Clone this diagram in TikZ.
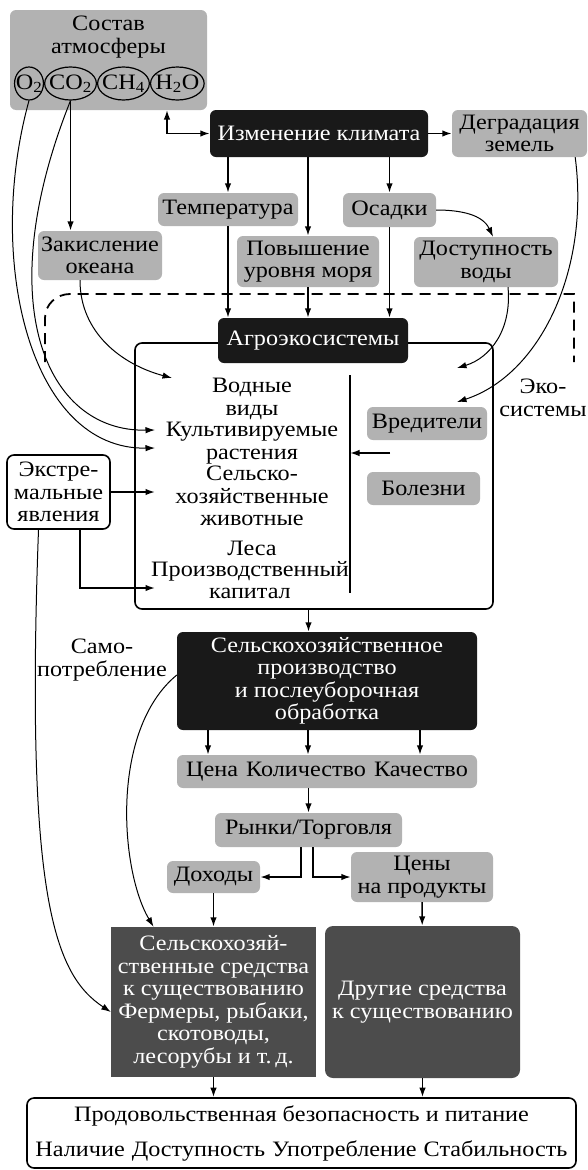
\documentclass[tikz,border=0pt]{standalone}
\usepackage{fontspec}
\setmainfont{Liberation Serif}[FakeStretch=1.1]
\usetikzlibrary{arrows.meta,positioning,shapes.geometric}

\begin{document}
\begin{tikzpicture}[
  x=1pt, y=1pt,
  font=\fontsize{22}{22.5}\selectfont,
  >={Latex[length=9.5pt,width=6.5pt]},
  every node/.style={align=center, inner sep=1pt},
  graybox/.style={fill=black!30, rounded corners=6pt},
  darkbox/.style={fill=black!90, text=white, rounded corners=6pt},
  livbox/.style={fill=black!70, text=white},
  framebox/.style={draw, line width=1.6pt, rounded corners=7pt},
  gas/.style={draw, ellipse, line width=1.2pt, inner xsep=-3pt, inner ysep=0pt, minimum height=33pt},
  arrow/.style={->, line width=1.6pt},
  thinarrow/.style={->, line width=1pt},
  dashline/.style={line width=1.8pt, dash pattern=on 11pt off 7pt}
]
\useasboundingbox (0,0) rectangle (588,-1170);

% atmosphere
\node[graybox, minimum width=197pt, minimum height=100pt] (atm) at (108.5,-60) {};
\node (atmname) at (108.5,-37) {Состав\\атмосферы};
\node[gas] (o2) at (29,-83.5) {O\textsubscript{2}};
\node[gas, right=0pt of o2] (co2) {CO\textsubscript{2}};
\node[gas, right=0pt of co2] (ch4) {CH\textsubscript{4}};
\node[gas, right=0pt of ch4] (h2o) {H\textsubscript{2}O};

% climate drivers
\node[darkbox, minimum width=218pt, minimum height=47pt] (clim) at (319,-133.5) {Изменение климата};
\node[graybox, minimum width=135pt, minimum height=47pt] (degr) at (519.5,-133.5) {Деградация\\земель};
\node[graybox, minimum width=140pt, minimum height=33pt] (temp) at (228,-209.5) {Температура};
\node[graybox, minimum width=142pt, minimum height=51pt] (sea) at (308,-261.5) {Повышение\\уровня моря};
\node[graybox, minimum width=93pt, minimum height=34pt] (prec) at (389.5,-210) {Осадки};
\node[graybox, minimum width=144pt, minimum height=50pt] (water) at (486,-262) {Доступность\\воды};
\node[graybox, minimum width=124pt, minimum height=49pt] (acid) at (100,-255.5) {Закисление\\океана};

% agroecosystems
\node[framebox, minimum width=358pt, minimum height=266pt] (eco) at (314,-476) {};
\node[darkbox, minimum width=190pt, minimum height=45pt] (agro) at (313,-340.5) {Агроэкосистемы};
\node (aqua) at (252,-399) {Водные\\виды};
\node (crops) at (252,-443) {Культивируемые\\растения};
\node (stock) at (252,-496) {Сельско-\\хозяйственные\\животные};
\node (forest) at (252,-548) {Леса};
\node (capital) at (250,-580) {Производственный\\капитал};
\coordinate (divtop) at (350,-375);
\coordinate (divbot) at (350,-593);
\draw[line width=1.6pt] (divtop) -- (divbot);
\node[graybox, minimum width=120pt, minimum height=33pt] (pests) at (427,-423.5) {Вредители};
\node[graybox, minimum width=113pt, minimum height=33pt] (dis) at (423.5,-488.5) {Болезни};
\node (ecolbl) at (543,-398) {Эко-\\системы};
\node[framebox, minimum width=103pt, minimum height=74pt, inner sep=0pt] (ext) at (58.5,-492) {Экстре-\\мальные\\явления};

% production and livelihoods
\node (selfc) at (102,-660) {Само-\\потребление};
\node[darkbox, minimum width=300pt, minimum height=98pt] (prod) at (327,-681) {Сельскохозяйственное\\производство\\и послеуборочная\\обработка};
\node[graybox, minimum width=300pt, minimum height=33pt] (pqq) at (327,-771.5) {Цена\hspace{8pt}Количество\hspace{8pt}Качество};
\node[graybox, minimum width=187pt, minimum height=34pt] (market) at (308.5,-830) {Рынки/Торговля};
\node[graybox, minimum width=93pt, minimum height=32pt] (income) at (213.5,-877) {Доходы};
\node[graybox, minimum width=142pt, minimum height=50pt] (fprice) at (422,-877) {Цены\\на продукты};
\node[livbox, minimum width=205pt, minimum height=150pt] (farmliv) at (213.5,-1002) {Сельскохозяй-\\ственные средства\\к существованию\\Фермеры, рыбаки,\\скотоводы,\\лесорубы и т.\,д.};
\node[livbox, rounded corners=8pt, minimum width=195pt, minimum height=152pt] (otherliv) at (422.5,-1002) {Другие средства\\к существованию};
\node[framebox, minimum width=549pt, minimum height=70pt] (food) at (301.5,-1133) {Продовольственная безопасность и питание\\[12.5pt]Наличие\hspace{7pt}Доступность\hspace{7pt}Употребление\hspace{7pt}Стабильность};

% free ends inside the frame
\coordinate (inAqua) at (172,-378);
\coordinate (inCropsA) at (155,-430);
\coordinate (inCropsB) at (155,-448);
\coordinate (inStock) at (155,-495);
\coordinate (inCap) at (155,-588);
\coordinate (inWater) at (457,-368);
\coordinate (inPests) at (457,-402);
\coordinate (pdin) at (390,-453);
\coordinate (atmc) at (167,-110);

% connectors
\draw[<->, line width=1.6pt] (atmc) |- (clim.west);
\draw[arrow] (clim) -- (degr);
\foreach \n in {temp,sea,prec} \draw[arrow] (\n.north |- clim.south) -- (\n.north);
\draw[thinarrow] (prec.east) to[out=0,in=115] ([xshift=7pt]water.north);
\draw[arrow] (co2.south) -- (co2.south |- acid.north);
\foreach \n in {temp,sea,prec} \draw[arrow] (\n.south) -- (\n.south |- agro.north);
\draw[thinarrow] ([xshift=-20pt]acid.south) to[out=-90,in=165] (inAqua);
\draw[thinarrow] (o2.south) .. controls (-15,-260) and (30,-450) .. (inCropsB);
\draw[thinarrow] (co2.south) .. controls (-10,-302) and (45,-432) .. (inCropsA);
\draw[thinarrow] ([xshift=-12pt]degr.south east) .. controls (590,-270) and (540,-375) .. (inPests);
\draw[thinarrow] ([xshift=22pt]water.south) .. controls (512,-330) and (490,-358) .. (inWater);
\draw[arrow] (pdin) -- (pdin -| divtop);
\draw[arrow] (ext.east) -- (ext.east -| inStock);
\draw[arrow] ([xshift=21.5pt]ext.south) |- (inCap);
\draw[thinarrow] ([xshift=-20pt]ext.south) .. controls (25,-900) and (55,-975) .. ([yshift=-10pt]farmliv.west);
\draw[dashline] (45,-362) -- (45,-318) to[out=90,in=180] (70,-294) -- (574,-294) -- (574,-362);
\draw[arrow] (eco.south -| market) -- (market |- prod.north);
\foreach \x in {208,308,420} \draw[arrow] (prod.south -| \x,0) -- (pqq.north -| \x,0);
\draw[arrow] (pqq.south -| market) -- (market.north);
\draw[arrow] ([xshift=-7.5pt]market.south) |- (income.east);
\draw[arrow] ([xshift=4.5pt]market.south) |- (fprice.west);
\draw[arrow] (income) -- (farmliv);
\draw[arrow] (fprice) -- (otherliv);
\draw[thinarrow] ([yshift=6pt]prod.west) .. controls (110,-730) and (120,-870) .. ([xshift=-60pt]farmliv.north);
\draw[arrow] (farmliv.south) -- (farmliv.south |- food.north);
\draw[arrow] (otherliv.south) -- (otherliv.south |- food.north);
\end{tikzpicture}
\end{document}
